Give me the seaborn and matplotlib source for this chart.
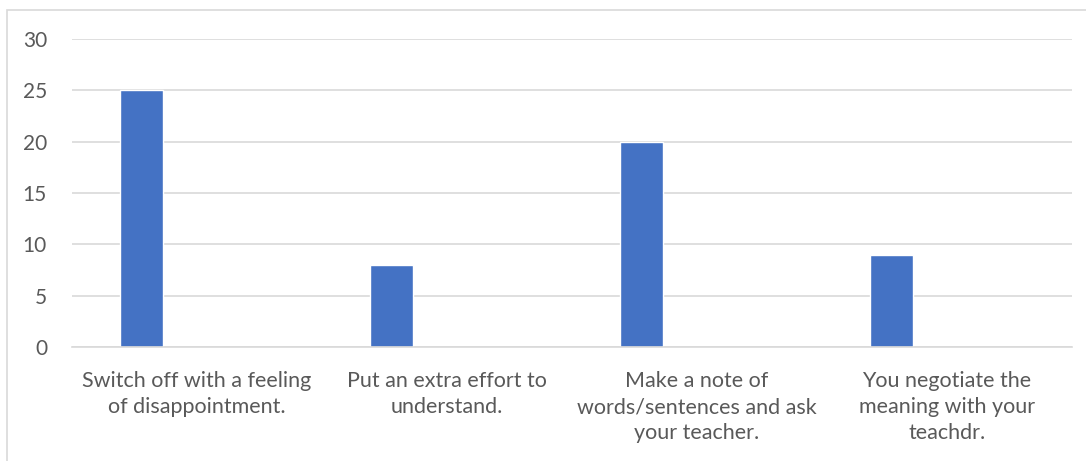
import matplotlib
matplotlib.use("Agg")
import matplotlib.pyplot as plt
import seaborn as sns
import pandas as pd
import numpy as np
from matplotlib.patches import Rectangle

categories = [
    "Switch off with a feeling\nof disappointment.",
    "Put an extra effort to\nunderstand.",
    "Make a note of\nwords/sentences and ask\nyour teacher.",
    "You negotiate the\nmeaning with your\nteachdr.",
]
series_names = ["Series1", "Series2", "Series3"]
series1 = [25, 8, 20, 9]
series2 = [np.nan, np.nan, np.nan, np.nan]
series3 = [np.nan, np.nan, np.nan, np.nan]

df = pd.DataFrame({
    "category": categories * 3,
    "series": [series_names[0]] * 4 + [series_names[1]] * 4 + [series_names[2]] * 4,
    "value": series1 + series2 + series3,
})

sns.set_theme(style="white")
plt.rcParams["font.family"] = ["Lato", "DejaVu Sans"]

fig = plt.figure(figsize=(10.86, 4.61), dpi=100)
ax = fig.add_axes([72 / 1086, 1 - 347 / 461, 1000 / 1086, 308 / 461])

sns.barplot(
    data=df, x="category", y="value", hue="series", hue_order=series_names,
    order=categories, palette=["#4472C4", "#ED7D31", "#A5A5A5"],
    width=0.666, gap=0.225, errorbar=None, legend=False, ax=ax, saturation=1,
)

ax.set_ylim(0, 30)
ax.set_yticks([0, 5, 10, 15, 20, 25, 30])
ax.yaxis.grid(True, color="#D9D9D9", linewidth=1.2)
ax.set_axisbelow(True)
for s in ["top", "right", "left"]:
    ax.spines[s].set_visible(False)
ax.spines["bottom"].set_color("#D9D9D9")
ax.spines["bottom"].set_linewidth(1.2)
ax.set_xlabel("")
ax.set_ylabel("")
ax.tick_params(axis="y", length=0, pad=18, labelsize=15, labelcolor="#595959")
ax.tick_params(axis="x", length=0, pad=17, labelsize=15.5, labelcolor="#595959")
for lbl in ax.get_xticklabels():
    lbl.set_linespacing(1.4)

# chart frame
fig.patches.append(Rectangle((7 / 1086, -0.1), 1.2, 1 - 10 / 461 + 0.1,
                             transform=fig.transFigure, fill=False,
                             edgecolor="#D9D9D9", linewidth=1.2))

fig.savefig("out.png", dpi=100, facecolor="white")
